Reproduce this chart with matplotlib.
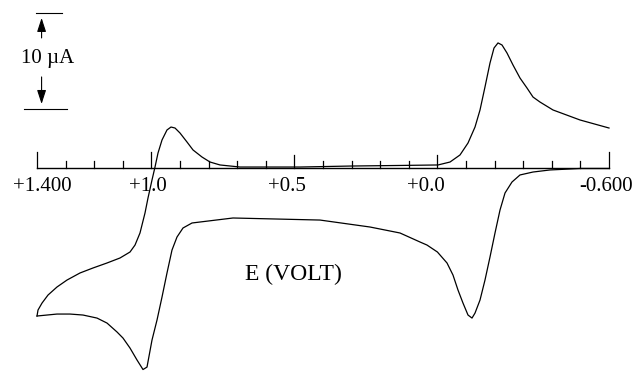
import numpy as np
import matplotlib
matplotlib.use("Agg")
import matplotlib.pyplot as plt

# reverse scan, +1.4 V -> -0.6 V (upper branch), current in uA
E_rev = [1.4000, 1.3965, 1.3825, 1.3615, 1.3301, 1.2951, 1.2497, 1.2042, 1.1552,
         1.1098, 1.0748, 1.0573, 1.0399, 1.0224, 1.0119, 0.9979, 0.9874, 0.9769,
         0.9629, 0.9455, 0.9315, 0.9175, 0.9000, 0.8755, 0.8545, 0.8231, 0.7951,
         0.7601, 0.6902, 0.4804, 0.3056, 0.1308, -0.0021, -0.0441, -0.0790,
         -0.1070, -0.1315, -0.1490, -0.1664, -0.1839, -0.1979, -0.2119, -0.2259,
         -0.2434, -0.2643, -0.2888, -0.3133, -0.3343, -0.3587, -0.4042, -0.4986,
         -0.6000]
I_rev = [-15.10, -14.49, -13.78, -12.96, -12.14, -11.43, -10.71, -10.20, -9.69,
         -9.18, -8.57, -7.86, -6.63, -4.59, -3.06, -1.22, 0.10, 1.53,
         2.86, 3.88, 4.18, 4.08, 3.57, 2.65, 1.84, 1.12, 0.61,
         0.31, 0.10, 0.10, 0.20, 0.26, 0.31, 0.61, 1.33,
         2.55, 4.18, 5.92, 8.27, 10.71, 12.24, 12.76, 12.55,
         11.73, 10.51, 9.18, 8.16, 7.24, 6.73, 5.92, 4.90,
         4.08]

# forward scan, -0.6 V -> +1.4 V (lower branch)
E_fwd = [-0.6000, -0.4986, -0.3937, -0.3343, -0.2888, -0.2608, -0.2364, -0.2189,
         -0.2014, -0.1839, -0.1664, -0.1490, -0.1315, -0.1210, -0.1070, -0.0895,
         -0.0720, -0.0545, -0.0336, 0.0000, 0.0364, 0.0608, 0.1308, 0.2357,
         0.4105, 0.7147, 0.8301, 0.8580, 0.8895, 0.9105, 0.9280, 0.9455,
         0.9629, 0.9804, 0.9979, 1.0154, 1.0294, 1.0503, 1.0748, 1.0993,
         1.1203, 1.1552, 1.1902, 1.2392, 1.2846, 1.3301, 1.3650, 1.4000]
I_fwd = [-0.05, -0.05, -0.20, -0.41, -0.71, -1.43, -2.55, -4.29,
         -6.63, -9.08, -11.43, -13.47, -14.80, -15.31, -15.00, -13.78,
         -12.45, -10.92, -9.69, -8.57, -7.86, -7.55, -6.63, -6.02,
         -5.31, -5.10, -5.51, -5.61, -6.12, -7.04, -8.37, -10.71,
         -13.16, -15.51, -17.55, -20.31, -20.56, -19.59, -18.37, -17.35,
         -16.73, -15.82, -15.31, -15.00, -14.90, -14.90, -15.00, -15.10]

tick_E = np.round(np.arange(1.4, -0.65, -0.1), 2)
major_E = [1.4, 1.0, 0.5, 0.0, -0.6]
label_text = ["+1.400", "+1.0", "+0.5", "+0.0", "-0.600"]
label_E = [1.3825, 1.012, 0.526, 0.040, -0.590]

fig = plt.figure(figsize=(6.39, 3.71), dpi=100)
ax = fig.add_axes([0, 0, 1, 1])
ax.set_xlim(1.5294, -0.7049)
ax.set_ylim(-20.71, 17.14)
ax.axis("off")

serif = ["Liberation Serif", "DejaVu Serif"]

# potential axis with ticks
ax.plot([1.4, -0.6], [0, 0], color="black", lw=1.0)
for e in tick_E:
    if any(abs(e - m) < 1e-6 for m in major_E):
        h = 1.6 if abs(e) > 0.55 else 1.35
    else:
        h = 0.72
    ax.plot([e, e], [0, h], color="black", lw=0.9)

for t, e in zip(label_text, label_E):
    ax.text(e, -1.9, t, ha="center", va="center", fontsize=15, family=serif)

ax.plot(E_rev, I_rev, color="black", lw=0.9, solid_joinstyle="round")
ax.plot(E_fwd, I_fwd, color="black", lw=0.9, solid_joinstyle="round")

ax.text(0.505, -10.9, "E (VOLT)", ha="center", va="center", fontsize=17, family=serif)

# 10 uA scale bar
ax.plot([1.4035, 1.3126], [15.82, 15.82], color="black", lw=0.8)
ax.plot([1.4455, 1.295], [6.02, 6.02], color="black", lw=0.8)
head = "-|>,head_length=0.4,head_width=0.13"
ax.annotate("", xy=(1.384, 15.31), xytext=(1.384, 13.27),
            arrowprops=dict(arrowstyle=head, color="black", lw=0.8,
                            mutation_scale=21, shrinkA=0, shrinkB=0))
ax.annotate("", xy=(1.384, 6.53), xytext=(1.384, 9.29),
            arrowprops=dict(arrowstyle=head, color="black", lw=0.8,
                            mutation_scale=21, shrinkA=0, shrinkB=0))
ax.text(1.3615, 11.2, "10 \u00b5A", ha="center", va="center", fontsize=15, family=serif)

fig.savefig("out.png", dpi=100)
